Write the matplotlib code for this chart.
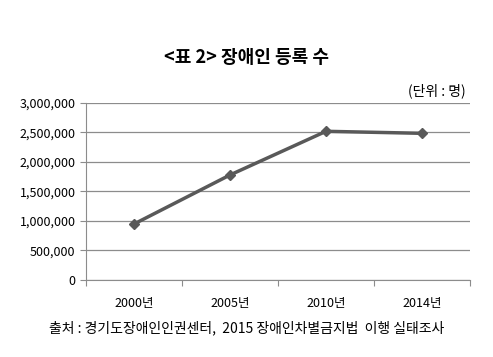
import numpy as np
import matplotlib.pyplot as plt
from matplotlib.ticker import FuncFormatter

plt.rcParams['font.family'] = ['Noto Sans CJK KR', 'DejaVu Sans']

years = ['2000년', '2005년', '2010년', '2014년']
registered = [947000, 1777000, 2516000, 2482000]

fig = plt.figure(figsize=(4.93, 3.57), dpi=100)
ax = fig.add_axes([0.1744, 0.2157, 0.779, 0.4966])

x = np.arange(len(years))
ax.plot(x, registered, color='#595959', lw=2.5, marker='D', ms=5,
        markerfacecolor='#595959', markeredgecolor='#595959', zorder=3)

ax.set_xlim(-0.5, len(years) - 0.5)
ax.set_ylim(0, 3000000)
ax.set_yticks(np.arange(0, 3000001, 500000))
ax.yaxis.set_major_formatter(FuncFormatter(lambda v, p: f'{int(v):,}'))
ax.yaxis.grid(True, color='#8c8c8c', lw=0.9)
ax.set_axisbelow(True)

# category labels between boundary ticks
ax.set_xticks(np.arange(-0.5, len(years)), minor=False)
ax.set_xticklabels([])
ax.set_xticks(x, minor=True)
ax.set_xticklabels(years, minor=True)
ax.tick_params(axis='x', which='major', length=4, color='#8c8c8c', direction='out')
ax.tick_params(axis='x', which='minor', length=0, pad=12, labelsize=9)
ax.tick_params(axis='y', length=4, color='#8c8c8c', labelsize=9)

for s in ['top', 'right']:
    ax.spines[s].set_visible(False)
for s in ['left', 'bottom']:
    ax.spines[s].set_color('#8c8c8c')

fig.text(0.5, 0.84, '<표 2> 장애인 등록 수', ha='center', va='center',
         fontsize=13, fontweight='bold')
fig.text(0.945, 0.745, '(단위 : 명)', ha='right', va='center', fontsize=10)
fig.text(0.5, 0.08, '출처 : 경기도장애인인권센터,  2015 장애인차별금지법  이행 실태조사',
         ha='center', va='center', fontsize=10)

fig.savefig('out.png', dpi=100)
